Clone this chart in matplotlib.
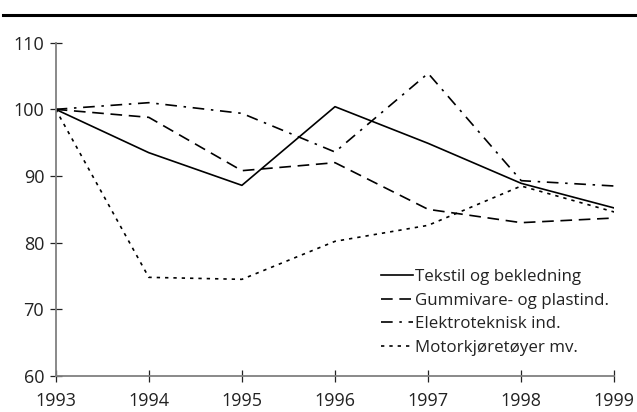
import matplotlib.pyplot as plt
from matplotlib.lines import Line2D

plt.rcParams['font.family'] = ['Open Sans', 'DejaVu Sans']

years = [1993, 1994, 1995, 1996, 1997, 1998, 1999]
tekstil = [100, 93.5, 88.6, 100.4, 94.9, 88.9, 85.2]
gummivare = [100, 98.8, 90.8, 92.0, 85.0, 83.0, 83.7]
elektro = [100, 101.0, 99.4, 93.6, 105.4, 89.3, 88.5]
motor = [100, 74.8, 74.5, 80.2, 82.6, 88.5, 84.6]

labels = ["Tekstil og bekledning", "Gummivare- og plastind.",
          "Elektroteknisk ind.", "Motorkjøretøyer mv."]

fig = plt.figure(figsize=(6.37, 4.12), dpi=100)
ax = fig.add_axes([0.0874, 0.0874, 0.877, 0.809])

lw = 1.2
ax.plot(years, tekstil, color='black', lw=lw, linestyle='-', label=labels[0])
ax.plot(years, gummivare, color='black', lw=lw, linestyle=(0, (7, 4)), label=labels[1])
ax.plot(years, elektro, color='black', lw=lw, linestyle=(0, (7, 4, 1.5, 4)), label=labels[2])
ax.plot(years, motor, color='black', lw=lw, linestyle=(0, (2, 3)), label=labels[3])

ax.set_xlim(1993, 1999)
ax.set_ylim(60, 110)
ax.set_xticks(years)
ax.set_yticks([60, 70, 80, 90, 100, 110])

for side in ['top', 'right']:
    ax.spines[side].set_visible(False)
for side in ['left', 'bottom']:
    ax.spines[side].set_color('#808080')
    ax.spines[side].set_linewidth(1.3)

ax.tick_params(axis='both', direction='inout', length=8.5, width=0.9,
               color='#222222', labelsize=13, labelcolor='#222222')
ax.tick_params(axis='x', pad=7.5)
ax.tick_params(axis='y', pad=4)

leg = ax.legend(loc='lower right', bbox_to_anchor=(1.005, 0.035), frameon=False,
                fontsize=12.2, handlelength=1.9, handletextpad=0.1,
                labelspacing=0.45, borderpad=0)
for t in leg.get_texts():
    t.set_color('#222222')

fig.add_artist(Line2D([3 / 637, 1.0], [(412 - 14.5) / 412] * 2,
                      color='black', lw=2.2, transform=fig.transFigure))

fig.savefig('out.png', dpi=100)
